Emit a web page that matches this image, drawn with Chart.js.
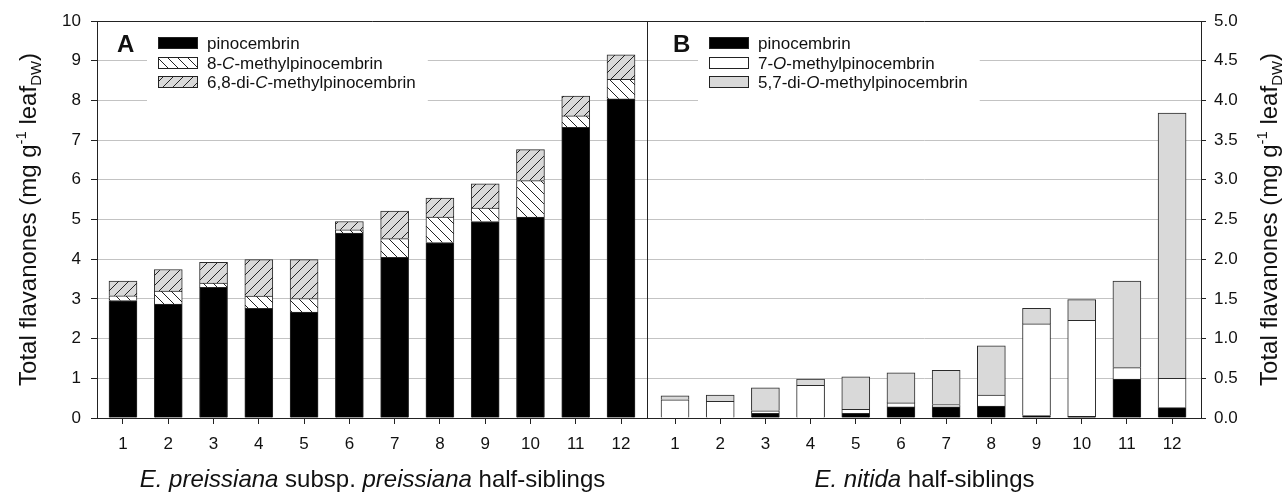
<!DOCTYPE html>
<html><head><meta charset="utf-8">
<script src="https://cdn.jsdelivr.net/npm/chart.js@4.4.1/dist/chart.umd.min.js"></script>
<style>
html,body{margin:0;padding:0;background:#fff;}
#wrap{position:relative;width:1288px;height:493px;overflow:hidden;background:#fff;}
#cA{position:absolute;left:0;top:0;}
#cB{position:absolute;left:644px;top:0;}
</style></head><body>
<div id="wrap"><canvas id="cB" width="644" height="493"></canvas><canvas id="cA" width="652" height="493"></canvas></div>
<script>
// ---------- data ----------
const halfSiblings = [1, 2, 3, 4, 5, 6, 7, 8, 9, 10, 11, 12];

// Panel A: E. preissiana subsp. preissiana (mg g-1 leaf DW)
const pinocembrinA      = [2.96, 2.87, 3.29, 2.76, 2.67, 4.66, 4.05, 4.42, 4.95, 5.06, 7.32, 8.04];
const cMethylPinoA      = [0.12, 0.33, 0.11, 0.31, 0.34, 0.08, 0.47, 0.64, 0.34, 0.92, 0.29, 0.49];
const diCMethylPinoA    = [0.37, 0.54, 0.52, 0.92, 0.98, 0.21, 0.69, 0.48, 0.61, 0.78, 0.50, 0.62];

// Panel B: E. nitida (mg g-1 leaf DW)
const pinocembrinB      = [0.00, 0.00, 0.06, 0.00, 0.06, 0.14, 0.14, 0.15, 0.03, 0.02, 0.49, 0.13];
const oMethylPinoB      = [0.23, 0.21, 0.03, 0.41, 0.05, 0.05, 0.03, 0.14, 1.155, 1.21, 0.145, 0.37];
const diOMethylPinoB    = [0.05, 0.08, 0.29, 0.08, 0.41, 0.38, 0.43, 0.62, 0.195, 0.26, 1.09, 3.34];

const yTicksA = [0, 1, 2, 3, 4, 5, 6, 7, 8, 9, 10];
const yTicksB = [0, 0.5, 1, 1.5, 2, 2.5, 3, 3.5, 4, 4.5, 5];

// ---------- styles ----------
const FONT = '"Liberation Sans", Arial, Helvetica, sans-serif';
const INK = '#111';
const FRAME = '#222';
const GRID = '#c3c3c3';
const LIGHT = '#d9d9d9';

function hatch(dir, bg) {
  const c = document.createElement('canvas');
  c.width = 10; c.height = 10;
  const g = c.getContext('2d');
  g.fillStyle = bg; g.fillRect(0, 0, 10, 10);
  g.strokeStyle = '#222'; g.lineWidth = 1;
  g.beginPath();
  for (const k of [-10, 0, 10]) {
    if (dir === 'back') { g.moveTo(k, 0); g.lineTo(k + 10, 10); }
    else { g.moveTo(k, 10); g.lineTo(k + 10, 0); }
  }
  g.stroke();
  return g.createPattern(c, 'repeat');
}

function fontStr(sz, seg) {
  return (seg.i ? 'italic ' : '') + (seg.b ? 'bold ' : '') + sz + 'px ' + FONT;
}
function segSize(size, seg) { return (seg.sup || seg.sub) ? size * 0.62 : size; }
function richWidth(ctx, segs, size) {
  let w = 0;
  for (const s of segs) { ctx.font = fontStr(segSize(size, s), s); w += ctx.measureText(s.t).width; }
  return w;
}
function drawRich(ctx, segs, x, y, size, align) {
  const w = richWidth(ctx, segs, size);
  let cx = align === 'center' ? x - w / 2 : x;
  ctx.textAlign = 'left'; ctx.textBaseline = 'alphabetic'; ctx.fillStyle = INK;
  for (const s of segs) {
    const sz = segSize(size, s);
    ctx.font = fontStr(sz, s);
    let dy = 0;
    if (s.sup) dy = -size * 0.42;
    if (s.sub) dy = size * 0.22;
    ctx.fillText(s.t, cx, y + dy);
    cx += ctx.measureText(s.t).width;
  }
  return w;
}

const yTitle = [{t: 'Total flavanones (mg g'}, {t: '-1', sup: true}, {t: ' leaf'}, {t: 'DW', sub: true}, {t: ')'}];

function makePanel(cfg) {
  const panelPlugin = {
    id: 'panel' + cfg.letter,
    beforeDatasetsDraw(chart) {
      const ctx = chart.ctx, a = chart.chartArea;
      // white legend box hiding gridlines
      ctx.save();
      let maxW = 0;
      cfg.legend.forEach(row => { maxW = Math.max(maxW, richWidth(ctx, row.segs, 17)); });
      ctx.fillStyle = '#fff';
      ctx.fillRect(a.left + 50, a.top + 1, (a.left + 110 + maxW + 12) - (a.left + 50), 90);
      ctx.restore();
    },
    afterDraw(chart) {
      const ctx = chart.ctx, a = chart.chartArea;
      ctx.save();
      // frame lines
      ctx.strokeStyle = FRAME; ctx.lineWidth = 1;
      ctx.beginPath();
      const ty = Math.round(a.top) + 0.5;
      ctx.moveTo(a.left, ty); ctx.lineTo(a.right, ty);
      if (cfg.divider) { const dx = Math.round(a.right) - 0.5; ctx.moveTo(dx, a.top); ctx.lineTo(dx, a.bottom); }
      ctx.stroke();
      // panel letter
      ctx.font = 'bold 24px ' + FONT; ctx.fillStyle = INK; ctx.textAlign = 'left'; ctx.textBaseline = 'alphabetic';
      ctx.fillText(cfg.letter, a.left + cfg.letterDx, a.top + 31);
      // legend
      cfg.legend.forEach((row, i) => {
        const cy = a.top + 22 + i * 19.5;
        const sx = a.left + 61, sy = Math.round(cy - 6);
        ctx.fillStyle = row.fill;
        ctx.fillRect(sx, sy, 40, 12);
        ctx.strokeStyle = '#222'; ctx.lineWidth = 1;
        ctx.strokeRect(sx + 0.5, sy + 0.5, 39, 11);
        drawRich(ctx, row.segs, a.left + 110, cy + 6, 17, 'left');
      });
      // x title
      drawRich(ctx, cfg.xTitle, (a.left + a.right) / 2, 487, 24, 'center');
      // y title
      ctx.save();
      ctx.translate(cfg.yTitleX, (a.top + a.bottom) / 2);
      ctx.rotate(-Math.PI / 2);
      drawRich(ctx, yTitle, 0, 24 * 0.36, 24, 'center');
      ctx.restore();
      ctx.restore();
    }
  };

  const datasets = cfg.series.map(s => ({
    label: s.label, data: s.data,
    backgroundColor: s.fill, borderColor: '#2a2a2a', borderWidth: 1,
    barThickness: 28
  }));

  return new Chart(document.getElementById(cfg.canvas), {
    type: 'bar',
    data: {labels: halfSiblings, datasets},
    options: {
      responsive: false, animation: false, events: [],
      layout: {padding: cfg.padding},
      plugins: {legend: {display: false}, tooltip: {enabled: false}, title: {display: false}},
      scales: {
        x: {
          type: 'linear', stacked: true, offset: false,
          min: cfg.xMin, max: cfg.xMax,
          afterBuildTicks: s => { s.ticks = halfSiblings.map(v => ({value: v})); },
          afterFit: s => { s.height = 75; },
          grid: {display: true, drawOnChartArea: false, drawTicks: true, tickLength: 6, tickColor: FRAME, offset: false},
          border: {display: true, color: FRAME, width: 1},
          ticks: {autoSkip: false, maxRotation: 0, padding: 10, color: INK, font: {family: FONT, size: 17},
                  callback: v => String(v)}
        },
        y: {
          position: cfg.yPos, stacked: true, min: 0, max: cfg.yMax,
          afterBuildTicks: s => { s.ticks = cfg.yTicks.map(v => ({value: v})); },
          afterFit: s => { s.width = cfg.yWidth; },
          grid: {color: GRID, lineWidth: 1, drawTicks: true, tickLength: cfg.yTickLen, tickColor: FRAME},
          border: {display: true, color: FRAME, width: 1},
          ticks: {padding: cfg.yPad, color: INK, font: {family: FONT, size: 17}, callback: cfg.yFmt}
        }
      }
    },
    plugins: [panelPlugin]
  });
}

const hatchBack = hatch('back', '#ffffff');
const hatchFwd = hatch('fwd', LIGHT);

makePanel({
  canvas: 'cA', letter: 'A', letterDx: 20, divider: true,
  padding: {top: 21, right: 4, left: 0, bottom: 0},
  xMin: 0.426, xMax: 12.596, yMax: 10, yTicks: yTicksA, yPos: 'left', yWidth: 97,
  yTickLen: 6, yPad: 10, yFmt: v => String(v), yTitleX: 27,
  series: [
    {label: 'pinocembrin', data: pinocembrinA, fill: '#000'},
    {label: '8-C-methylpinocembrin', data: cMethylPinoA, fill: hatchBack},
    {label: '6,8-di-C-methylpinocembrin', data: diCMethylPinoA, fill: hatchFwd}
  ],
  legend: [
    {fill: '#000', segs: [{t: 'pinocembrin'}]},
    {fill: hatchBack, segs: [{t: '8-'}, {t: 'C', i: true}, {t: '-methylpinocembrin'}]},
    {fill: hatchFwd, segs: [{t: '6,8-di-'}, {t: 'C', i: true}, {t: '-methylpinocembrin'}]}
  ],
  xTitle: [{t: 'E. preissiana', i: true}, {t: ' subsp. '}, {t: 'preissiana', i: true}, {t: ' half-siblings'}]
});

makePanel({
  canvas: 'cB', letter: 'B', letterDx: 25, divider: false,
  padding: {top: 21, right: 0, left: 4, bottom: 0},
  xMin: 0.402, xMax: 12.64, yMax: 5, yTicks: yTicksB, yPos: 'right', yWidth: 87,
  yTickLen: 5, yPad: 8, yFmt: v => Number(v).toFixed(1), yTitleX: 624,
  series: [
    {label: 'pinocembrin', data: pinocembrinB, fill: '#000'},
    {label: '7-O-methylpinocembrin', data: oMethylPinoB, fill: '#ffffff'},
    {label: '5,7-di-O-methylpinocembrin', data: diOMethylPinoB, fill: LIGHT}
  ],
  legend: [
    {fill: '#000', segs: [{t: 'pinocembrin'}]},
    {fill: '#ffffff', segs: [{t: '7-'}, {t: 'O', i: true}, {t: '-methylpinocembrin'}]},
    {fill: LIGHT, segs: [{t: '5,7-di-'}, {t: 'O', i: true}, {t: '-methylpinocembrin'}]}
  ],
  xTitle: [{t: 'E. nitida', i: true}, {t: ' half-siblings'}]
});
</script>
</body></html>
